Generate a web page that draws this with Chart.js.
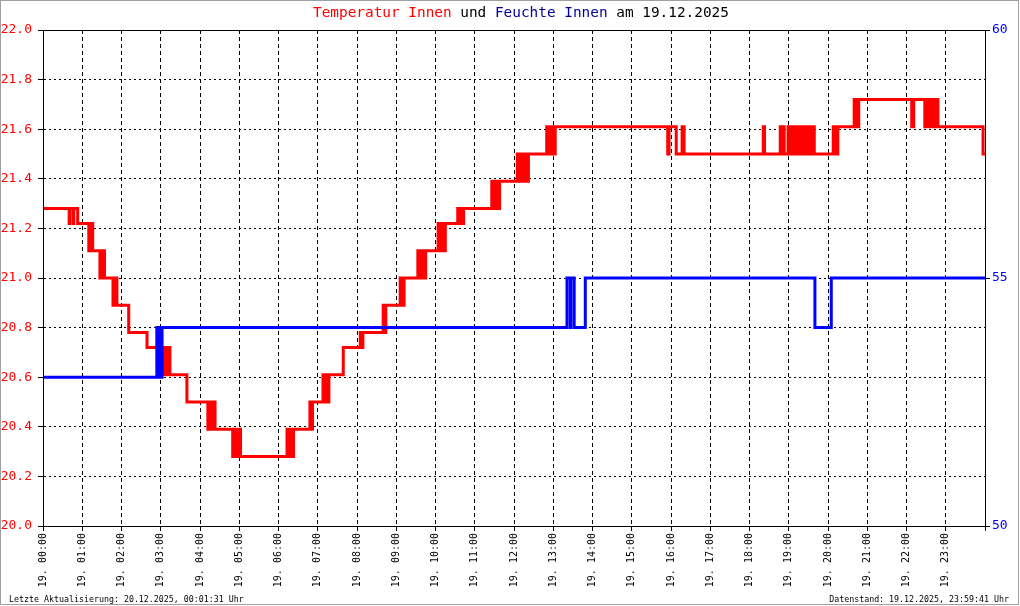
<!DOCTYPE html>
<html><head><meta charset="utf-8">
<script src="https://cdn.jsdelivr.net/npm/chart.js@4/dist/chart.umd.min.js"></script>
<style>
html,body{margin:0;padding:0;background:#fff;}
#wrap{position:relative;width:1020px;height:606px;overflow:hidden;}
#frame{position:absolute;left:0;top:0;width:1019px;height:605px;box-sizing:border-box;border:1px solid #a0a0a0;pointer-events:none;}
canvas{position:absolute;left:0;top:0;}
#title{position:absolute;left:313px;top:5px;font:14.4px "DejaVu Sans Mono",monospace;line-height:14px;white-space:pre;color:#000;}
.foot{position:absolute;top:595px;font:8.3px "DejaVu Sans Mono",monospace;line-height:9px;white-space:pre;color:#000;}
</style></head>
<body><div id="wrap">
<canvas id="c" width="1020" height="606"></canvas>
<div id="title"><span style="color:#ff0000">Temperatur Innen</span> und <span style="color:#000099">Feuchte Innen</span> am 19.12.2025</div>
<div class="foot" style="left:9px">Letzte Aktualisierung: 20.12.2025, 00:01:31 Uhr</div>
<div class="foot" style="right:11px">Datenstand: 19.12.2025, 23:59:41 Uhr</div>
<div id="frame"></div>
</div>
<script>
// minutes since 00:00 on 19.12.2025 (one line per group of readings)
const tempMinutes = [
  0,
  40,41,46,47,53,
  70,72,73,75,76,
  87,89,90,93,94,
  107,109,110,112,113,
  131,
  159,
  183,185,186,189,190,193,194,
  220,
  252,254,255,258,259,262,263,
  290,292,293,296,297,301,302,
  373,375,376,378,379,382,383,
  408,411,412,
  428,431,432,436,437,
  459,
  485,488,489,
  520,523,524,
  546,548,549,551,552,
  573,576,577,580,581,584,585,
  604,606,607,610,611,614,615,
  634,637,638,642,643,
  686,689,690,693,694,697,698,
  725,727,728,731,732,736,737,741,742,
  770,773,774,777,778,782,783,
  955,957,968,977,980,
  1101,1103,
  1127,1128,1132,1133,
  1139,1141,1143,1145,1148,1150,1153,1155,1157,1160,1162,1165,1166,1169,1172,1174,1176,1179,
  1208,1210,1211,1214,1215,
  1240,1242,1243,1246,1247,
  1328,1331,
  1348,1350,1352,1354,1356,1358,1360,1362,1364,1366,1368,
  1437,1440
];
const tempValues = [
  21.28,
  21.22,21.28,21.22,21.28,21.22,
  21.11,21.22,21.11,21.22,21.11,
  21.0,21.11,21.0,21.11,21.0,
  20.89,21.0,20.89,21.0,20.89,
  20.78,
  20.72,
  20.61,20.72,20.61,20.72,20.61,20.72,20.61,
  20.5,
  20.39,20.5,20.39,20.5,20.39,20.5,20.39,
  20.28,20.39,20.28,20.39,20.28,20.39,20.28,
  20.39,20.28,20.39,20.28,20.39,20.28,20.39,
  20.5,20.39,20.5,
  20.61,20.5,20.61,20.5,20.61,
  20.72,
  20.78,20.72,20.78,
  20.89,20.78,20.89,
  21.0,20.89,21.0,20.89,21.0,
  21.11,21.0,21.11,21.0,21.11,21.0,21.11,
  21.22,21.11,21.22,21.11,21.22,21.11,21.22,
  21.28,21.22,21.28,21.22,21.28,
  21.39,21.28,21.39,21.28,21.39,21.28,21.39,
  21.5,21.39,21.5,21.39,21.5,21.39,21.5,21.39,21.5,
  21.61,21.5,21.61,21.5,21.61,21.5,21.61,
  21.5,21.61,21.5,21.61,21.5,
  21.61,21.5,
  21.61,21.5,21.61,21.5,
  21.61,21.5,21.61,21.5,21.61,21.5,21.61,21.5,21.61,21.5,21.61,21.5,21.61,21.5,21.61,21.5,21.61,21.5,
  21.61,21.5,21.61,21.5,21.61,
  21.72,21.61,21.72,21.61,21.72,
  21.61,21.72,
  21.61,21.72,21.61,21.72,21.61,21.72,21.61,21.72,21.61,21.72,21.61,
  21.5,21.5
];
const humMinutes = [0,174,175,177,178,180,181,182,801,806,807,812,829,1180,1205,1440];
const humValues  = [53,54,53,54,53,54,53,54,55,54,55,54,55,54,55,55];
const hourTicks = [0,1,2,3,4,5,6,7,8,9,10,11,12,13,14,15,16,17,18,19,20,21,22,23];
const tempTicks = [20.0,20.2,20.4,20.6,20.8,21.0,21.2,21.4,21.6,21.8,22.0];
const humTicks = [50,55,60];

const pts = (xs, ys) => xs.map((x, i) => ({x: x, y: ys[i]}));
const mono = '"DejaVu Sans Mono", monospace';

const framePlugin = {
  id: 'frame',
  afterDraw(chart) {
    const a = chart.chartArea, ctx = chart.ctx;
    ctx.save();
    ctx.strokeStyle = '#000'; ctx.lineWidth = 1; ctx.setLineDash([]);
    ctx.strokeRect(Math.round(a.left) + 0.5, Math.round(a.top) + 0.5, Math.round(a.right - a.left), Math.round(a.bottom - a.top));
    ctx.restore();
  }
};

new Chart(document.getElementById('c'), {
  type: 'line',
  data: {
    datasets: [
      {label: 'Feuchte Innen', data: pts(humMinutes, humValues), yAxisID: 'y1', borderColor: '#0000ff', borderWidth: 3, pointRadius: 0, stepped: true, order: 0, fill: false},
      {label: 'Temperatur Innen', data: pts(tempMinutes, tempValues), yAxisID: 'y', borderColor: '#ff0000', borderWidth: 3, pointRadius: 0, stepped: true, order: 1, fill: false}
    ]
  },
  options: {
    responsive: false, animation: false,
    layout: {padding: {top: 30, left: 0, right: 0, bottom: 0}},
    plugins: {legend: {display: false}, tooltip: {enabled: false}, title: {display: false}},
    scales: {
      x: {
        type: 'linear', min: 0, max: 1440,
        afterBuildTicks: s => { s.ticks = hourTicks.map(h => ({value: h * 60})).concat([{value: 1440}]); },
        afterFit: s => { s.height = 80; },
        ticks: {
          autoSkip: false, maxRotation: 90, minRotation: 90, padding: 2,
          color: '#000', font: {family: mono, size: 10},
          callback: v => v >= 1440 ? '' : '19. ' + String(v / 60).padStart(2, '0') + ':00'
        },
        grid: {color: '#000', lineWidth: 1, tickLength: 5, borderDash: [4, 3], tickBorderDash: []},
        border: {color: '#000', dash: [4, 3]}
      },
      y: {
        position: 'left', min: 20, max: 22,
        afterBuildTicks: s => { s.ticks = tempTicks.map(v => ({value: v})); },
        afterFit: s => { s.width = 43; },
        ticks: {color: '#ff0000', padding: 6, font: {family: mono, size: 13}, callback: v => Number(v).toFixed(1)},
        grid: {color: '#000', lineWidth: 1, tickLength: 5, borderDash: [2, 3], tickBorderDash: []},
        border: {color: '#000', dash: [2, 3]}
      },
      y1: {
        position: 'right', min: 50, max: 60,
        afterBuildTicks: s => { s.ticks = humTicks.map(v => ({value: v})); },
        afterFit: s => { s.width = 35; },
        ticks: {color: '#0000ff', padding: 2, font: {family: mono, size: 13}, callback: v => String(v)},
        grid: {drawOnChartArea: false, color: '#000', tickLength: 5, tickBorderDash: []},
        border: {color: '#000'}
      }
    }
  },
  plugins: [framePlugin]
});
</script>
</body></html>
